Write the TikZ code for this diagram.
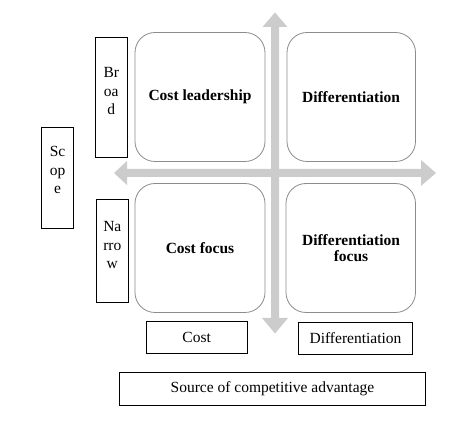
\documentclass[tikz,border=0pt]{standalone}
\usepackage{fontspec}
\setmainfont{Liberation Serif}
\begin{document}
\begin{tikzpicture}[x=1pt,y=-1pt,
  quad/.style={draw=black!45, line width=0.8pt, rounded corners=20pt, fill=white},
  lblbox/.style={draw=black, line width=0.9pt, inner sep=0pt},
  lbltxt/.style={align=center, inner sep=0pt, font=\fontsize{15.5}{18.5}\selectfont},
  quadtxt/.style={align=center, inner sep=0pt, font=\fontsize{15.5}{16}\selectfont\bfseries},
  arrowfill/.style={fill=black!20, draw=none}]
\useasboundingbox (0,0) rectangle (475,422);
% arrows
\fill[arrowfill] (275,12.5) -- (287.5,27) -- (279,27) -- (279,318) -- (288,318) -- (275,333.5) -- (262,318) -- (271,318) -- (271,27) -- (262.5,27) -- cycle;
\fill[arrowfill] (114,173) -- (127,161) -- (127,169) -- (421,169) -- (421,160) -- (436,173) -- (421,186) -- (421,177) -- (127,177) -- (127,185) -- cycle;
% quadrants
\draw[quad] (135,32.5) rectangle (265,161.5);
\draw[quad] (287,32.5) rectangle (415.5,161.5);
\draw[quad] (135,183.5) rectangle (265,312.5);
\draw[quad] (286,183.5) rectangle (415.5,312.5);
\node[quadtxt] (cl) at (200,97) {Cost leadership};
\node[quadtxt] (df) at (351,97) {Differentiation};
\node[quadtxt] (cf) at (200,248) {Cost focus};
\node[quadtxt] (dff) at (351,248) {Differentiation\\focus};
% side labels
\node[lblbox, minimum width=32pt, minimum height=120pt] (broad) at (111.3,97.3) {};
\node[lbltxt] (broadt) at (111.3,91.5) {Br\\oa\\d};
\node[lblbox, minimum width=31.6pt, minimum height=101pt] (scope) at (57.5,177.8) {};
\node[lbltxt] (scopet) at (57.5,170) {Sc\\op\\e};
\node[lblbox, minimum width=32.7pt, minimum height=102.7pt] (narrow) at (112.3,251.3) {};
\node[lbltxt] (narrowt) at (112.3,245.5) {Na\\rro\\w};
% bottom labels
\node[lblbox, minimum width=101pt, minimum height=31.6pt, font=\fontsize{15.5}{18.5}\selectfont] (cost) at (196.7,337.5) {Cost};
\node[lblbox, minimum width=114.4pt, minimum height=31.6pt, font=\fontsize{15.5}{18.5}\selectfont] (diff) at (355.5,338.5) {Differentiation};
\node[lblbox, minimum width=306.4pt, minimum height=33pt, font=\fontsize{15.5}{18.5}\selectfont] (source) at (272.5,388.8) {Source of competitive advantage};
\end{tikzpicture}
\end{document}
